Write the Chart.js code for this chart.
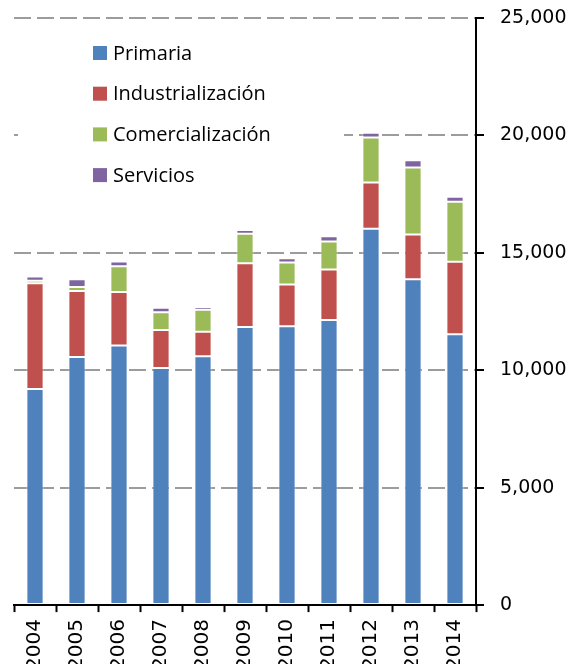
<!DOCTYPE html>
<html>
<head>
<meta charset="utf-8">
<script src="https://cdn.jsdelivr.net/npm/chart.js@4.4.0/dist/chart.umd.min.js"></script>
<style>
  html, body { margin: 0; padding: 0; background: #fff; overflow: hidden; }
  #wrap { width: 568px; height: 677px; }
</style>
</head>
<body>
<div id="wrap"><canvas id="barChart"></canvas></div>
<script>
// valores por año
const years = ['2004', '2005', '2006', '2007', '2008', '2009', '2010', '2011', '2012', '2013', '2014'];
const primaria = [9200, 10570, 11050, 10100, 10600, 11840, 11870, 12140, 16030, 13880, 11530];
const industrializacion = [4500, 2810, 2280, 1610, 1040, 2720, 1780, 2150, 1970, 1900, 3090];
const comercializacion = [110, 170, 1100, 760, 940, 1250, 940, 1190, 1910, 2850, 2560];
const servicios = [180, 330, 200, 190, 110, 160, 180, 230, 200, 310, 210];
const yTicks = [0, 5000, 10000, 15000, 20000, 25000];

// leyenda dentro del área del gráfico, con fondo blanco
const insideLegend = {
  id: 'insideLegend',
  afterDraw(chart) {
    const c = chart.ctx;
    c.save();
    c.fillStyle = '#fff';
    c.fillRect(18, 30, 326, 165);
    c.font = '20px "Open Sans"';
    c.textBaseline = 'middle';
    chart.data.datasets.forEach((ds, i) => {
      const y = 53 + i * 40.7;
      c.fillStyle = ds.backgroundColor;
      c.fillRect(93, y - 7, 14, 14);
      c.fillStyle = '#000';
      c.fillText(ds.label, 113, y + 1);
    });
    c.restore();
  }
};

const ctx = document.getElementById('barChart').getContext('2d');
const bar = (label, data, color) => ({
  label: label,
  data: data,
  backgroundColor: color,
  borderColor: 'rgba(255,255,255,0.45)',
  borderWidth: 1,
  borderSkipped: false,
  barPercentage: 0.41,
  categoryPercentage: 1
});

new Chart(ctx, {
  type: 'bar',
  data: {
    labels: years,
    datasets: [
      bar('Primaria', primaria, '#4F81BD'),
      bar('Industrialización', industrializacion, '#C0504D'),
      bar('Comercialización', comercializacion, '#9BBB59'),
      bar('Servicios', servicios, '#8064A2')
    ]
  },
  options: {
    responsive: true,
    maintainAspectRatio: false,
    animation: false,
    layout: { padding: { left: 14, top: 18, right: 0, bottom: 0 } },
    plugins: {
      legend: { display: false },
      tooltip: { enabled: false }
    },
    scales: {
      x: {
        stacked: true,
        grid: {
          offset: true,
          drawOnChartArea: false,
          drawTicks: true,
          tickLength: 7,
          tickColor: '#000',
          tickWidth: 2
        },
        border: { color: '#000', width: 2 },
        ticks: {
          minRotation: 90,
          maxRotation: 90,
          padding: 7,
          color: '#000',
          font: { family: 'DejaVu Sans', size: 20 }
        }
      },
      y: {
        stacked: true,
        position: 'right',
        min: 0,
        max: 25000,
        afterBuildTicks(axis) {
          axis.ticks = yTicks.map(v => ({ value: v }));
        },
        afterFit(axis) {
          axis.width = 92;
          axis.paddingTop = 0;
          axis.paddingBottom = 0;
        },
        grid: {
          color: '#9c9c9c',
          lineWidth: 2,
          tickLength: 8,
          tickColor: '#000',
          tickWidth: 2,
          tickBorderDash: []
        },
        border: { color: '#000', width: 2, dash: [17, 6] },
        ticks: {
          padding: 16,
          color: '#000',
          font: { family: 'DejaVu Sans', size: 19 },
          callback: v => v.toLocaleString('en-US')
        }
      }
    }
  },
  plugins: [insideLegend]
});
</script>
</body>
</html>
